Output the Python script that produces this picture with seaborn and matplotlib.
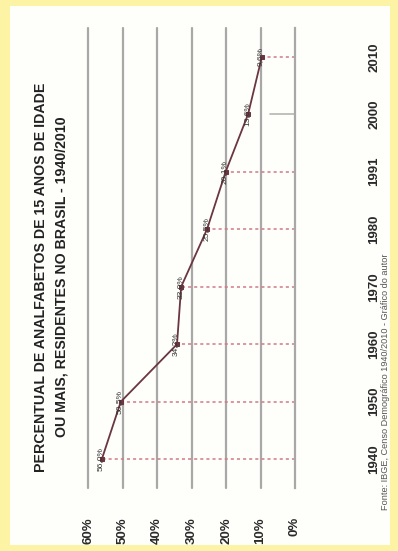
import matplotlib
matplotlib.use("Agg")
import matplotlib.pyplot as plt
from matplotlib.patches import Rectangle
import seaborn as sns
import pandas as pd

# Census years and share of illiterate people aged 15+ (%)
years = ["1940", "1950", "1960", "1970", "1980", "1991", "2000", "2010"]
illiterate_pct = [56.0, 50.5, 34.2, 33.0, 25.5, 20.1, 13.6, 9.6]
pct_ticks = [0, 10, 20, 30, 40, 50, 60]
pct_tick_labels = ["0%", "10%", "20%", "30%", "40%", "50%", "60%"]

title = ("PERCENTUAL DE ANALFABETOS DE 15 ANOS DE IDADE\n"
         "OU MAIS, RESIDENTES NO BRASIL - 1940/2010")
source = "Fonte: IBGE, Censo Demográfico 1940/2010 - Gráfico do autor"

df = pd.DataFrame({"ano": years, "pct": illiterate_pct,
                   "pos": range(len(years))})

sns.set_style("white")
plt.rcParams["font.family"] = ["Liberation Sans", "DejaVu Sans"]

fig = plt.figure(figsize=(3.98, 5.51), dpi=100)
fig.patch.set_facecolor("#fcf3a4")
fig.add_artist(Rectangle((10 / 398, 6 / 551), 380 / 398, 539 / 551,
                         transform=fig.transFigure, facecolor="#fefefb",
                         edgecolor="none", zorder=0))

ax = fig.add_axes([88 / 398, 1 - 488 / 551, 207 / 398, 460 / 551])
ax.set_facecolor("none")

line_col = "#6a3640"
drop_col = "#d07a86"

# dotted drop lines from each point down to the 0% axis
for _, r in df.iterrows():
    if r["ano"] == "2000":
        ax.plot([0, 7.2], [r["pos"], r["pos"]], color="#b5b5b5",
                lw=1.2, zorder=1)
    else:
        ax.plot([0, r["pct"]], [r["pos"], r["pos"]], color=drop_col,
                lw=1.1, ls=(0, (2, 2)), zorder=1)

sns.lineplot(data=df, x="pct", y="pos", sort=False, orient="y",
             color=line_col, lw=1.3, marker="s", markersize=3.5,
             markeredgecolor=line_col, ax=ax, zorder=3)

for _, r in df.iterrows():
    lbl = f"{r['pct']:.1f}%".replace(".", ",")
    ax.text(r["pct"] + 0.4, r["pos"], lbl, rotation=90, ha="center",
            va="center", fontsize=6, color="#333333", zorder=4)

ax.set_xlim(60, 0)
ax.set_ylim(-0.5, len(years) - 0.5)
ax.set_xticks(pct_ticks)
ax.set_xticklabels(pct_tick_labels, rotation=90, fontsize=9.5,
                   fontweight="bold", color="#2a2a2a")
ax.set_yticks(df["pos"])
ax.set_yticklabels(years, rotation=90, fontsize=9.5, fontweight="bold",
                   color="#2a2a2a", va="center")
ax.yaxis.tick_right()
ax.tick_params(axis="x", length=0, pad=21)
ax.tick_params(axis="y", length=0, pad=53)
ax.set_xlabel("")
ax.set_ylabel("")

# percentage gridlines (vertical on the page)
for v in pct_ticks[1:]:
    ax.axvline(v, color="#a8a8a8", lw=1.6, zorder=0, clip_on=False)
for s in ["top", "bottom", "left"]:
    ax.spines[s].set_visible(False)
ax.spines["right"].set_color("#a8a8a8")
ax.spines["right"].set_linewidth(1.6)

fig.text(51 / 398, 1 - 277 / 551, title, rotation=90, ha="center",
         va="center", multialignment="center", fontsize=10.2,
         fontweight="bold", color="#222222", linespacing=1.6)
fig.text(386 / 398, 1 - 382 / 551, source, rotation=90, ha="center",
         va="center", fontsize=6.6, color="#555555")

fig.savefig("out.png", dpi=100, facecolor=fig.get_facecolor())
